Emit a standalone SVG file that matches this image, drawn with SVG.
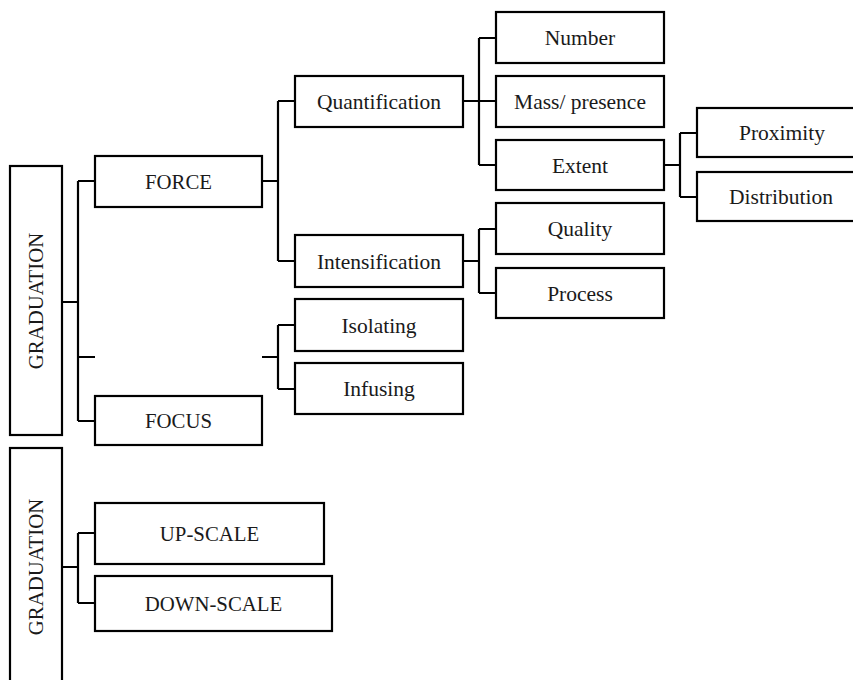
<svg xmlns="http://www.w3.org/2000/svg" width="853" height="680" viewBox="0 0 853 680">
<style>
.b{fill:#fff;stroke:#000;stroke-width:2.2}
.t{font-family:"Liberation Serif","Times New Roman",serif;font-size:21.5px;fill:#1a1a1a;text-anchor:middle}
.u{font-size:20.8px}
.c{fill:none;stroke:#000;stroke-width:2.2}
</style>
<rect width="853" height="680" fill="#fff"/>
<g id="connectors">
<path class="c" d="M62,302H78M78,181V421M78,181H95M78,357H95M78,421H95"/>
<path class="c" d="M262,181H278M278,101V261M278,101H295M278,261H295"/>
<path class="c" d="M262,357H278M278,325V389M278,325H295M278,389H295"/>
<path class="c" d="M463,101H479M479,38V165M479,38H496M479,101H496M479,165H496"/>
<path class="c" d="M664,165H680M680,133V197M680,133H697M680,197H697" stroke-width="2.6"/>
<path class="c" d="M463,261H479M479,229V293M479,229H496M479,293H496"/>
<path class="c" d="M62,567H78M78,533V603M78,533H95M78,603H95"/>
</g>
<g id="graduation1"><rect class="b" x="10" y="166" width="52" height="269"/><text class="t u" transform="translate(43,301) rotate(-90)">GRADUATION</text></g>
<g id="graduation2"><rect class="b" x="10" y="448" width="52" height="240"/><text class="t u" transform="translate(43,567) rotate(-90)">GRADUATION</text></g>
<g id="force"><rect class="b" x="95" y="156" width="167" height="51"/><text class="t u" x="178.5" y="188.5">FORCE</text></g>
<g id="focus"><rect class="b" x="95" y="396" width="167" height="49"/><text class="t u" x="178.5" y="427.5">FOCUS</text></g>
<g id="quantification"><rect class="b" x="295" y="76" width="168" height="51"/><text class="t" x="379" y="108.5">Quantification</text></g>
<g id="intensification"><rect class="b" x="295" y="235" width="168" height="52"/><text class="t" x="379" y="268.5">Intensification</text></g>
<g id="isolating"><rect class="b" x="295" y="299" width="168" height="52"/><text class="t" x="379" y="332.5">Isolating</text></g>
<g id="infusing"><rect class="b" x="295" y="363" width="168" height="51"/><text class="t" x="379" y="395.5">Infusing</text></g>
<g id="number"><rect class="b" x="496" y="12" width="168" height="51"/><text class="t" x="580" y="44.5">Number</text></g>
<g id="mass"><rect class="b" x="496" y="76" width="168" height="51"/><text class="t" x="580" y="108.5">Mass/ presence</text></g>
<g id="extent"><rect class="b" x="496" y="140" width="168" height="50"/><text class="t" x="580" y="172.5">Extent</text></g>
<g id="quality"><rect class="b" x="496" y="203" width="168" height="51"/><text class="t" x="580" y="235.5">Quality</text></g>
<g id="process"><rect class="b" x="496" y="268" width="168" height="50"/><text class="t" x="580" y="300.5">Process</text></g>
<g id="proximity"><rect class="b" x="697" y="108" width="171" height="49"/><text class="t" x="782" y="139.5">Proximity</text></g>
<g id="distribution"><rect class="b" x="697" y="172" width="171" height="49"/><text class="t" x="781" y="203.5">Distribution</text></g>
<g id="upscale"><rect class="b" x="95" y="503" width="229" height="61"/><text class="t u" x="209.5" y="540.5">UP-SCALE</text></g>
<g id="downscale"><rect class="b" x="95" y="576" width="237" height="55"/><text class="t u" x="213.5" y="610.5">DOWN-SCALE</text></g>
</svg>
